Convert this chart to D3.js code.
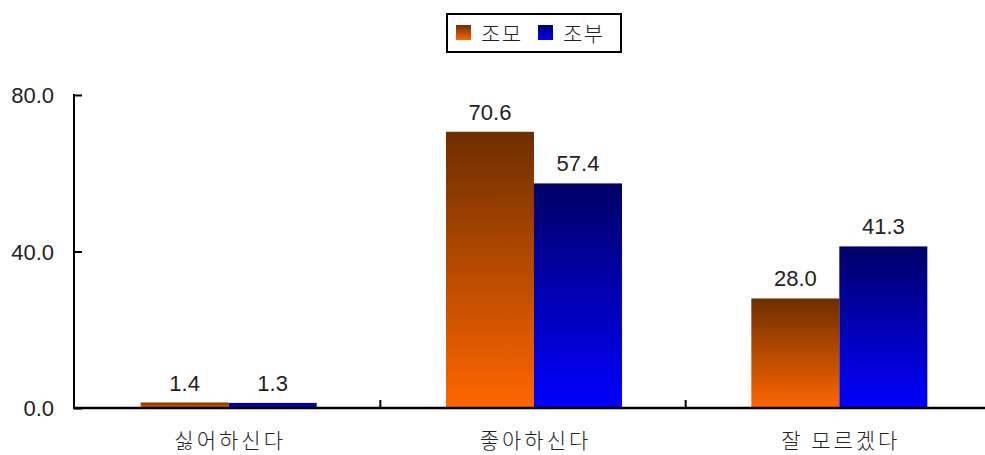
<!DOCTYPE html>
<html>
<head>
<meta charset="utf-8">
<script src="https://cdn.jsdelivr.net/npm/d3@7"></script>
<style>
  body { margin: 0; background: #fff; }
  text { font-family: "Noto Sans CJK KR", "DejaVu Sans", sans-serif; fill: #222; }
  text.num { font-family: "Liberation Sans", Arial, sans-serif; }
</style>
</head>
<body>
<svg id="viz" width="985" height="455"></svg>
<script>
// Data

var categories = ["싫어하신다", "좋아하신다", "잘 모르겠다"];
var series_names = ["조모", "조부"];
var grandma = [1.4, 70.6, 28.0];
var grandpa = [1.3, 57.4, 41.3];
var y_ticks = [0, 40, 80];

var svg = d3.select("#viz");

// Gradients

var defs = svg.append("defs");
var grads = [
  { id: "g_orange", top: "#6e2e00", bottom: "#ff6600" },
  { id: "g_blue", top: "#000066", bottom: "#0000ff" }
];
grads.forEach(function(g) {
  var lg = defs.append("linearGradient")
    .attr("id", g.id)
    .attr("x1", 0).attr("y1", 0).attr("x2", 0).attr("y2", 1);
  lg.append("stop").attr("offset", "0%").attr("stop-color", g.top);
  lg.append("stop").attr("offset", "100%").attr("stop-color", g.bottom);
});

// Scales

var x = d3.scaleBand()
  .domain(categories)
  .range([76, 992]);

var x_inner = d3.scaleBand()
  .domain(series_names)
  .range([0, 176]);

var y = d3.scaleLinear()
  .domain([0, 80])
  .range([408, 95]);

// Bars

var values = [grandma, grandpa];
var fills = ["url(#g_orange)", "url(#g_blue)"];

series_names.forEach(function(s, si) {
  var g = svg.append("g");
  g.selectAll("rect")
    .data(values[si])
    .enter().append("rect")
      .attr("x", (d, i) => x(categories[i]) + x.bandwidth() / 2 - 88 + x_inner(s))
      .attr("y", d => y(d))
      .attr("width", x_inner.bandwidth())
      .attr("height", d => y(0) - y(d))
      .attr("fill", fills[si]);

  g.selectAll("text")
    .data(values[si])
    .enter().append("text")
      .attr("class", "num")
      .attr("x", (d, i) => x(categories[i]) + x.bandwidth() / 2 - 88 + x_inner(s) + x_inner.bandwidth() / 2)
      .attr("y", d => y(d) - 12)
      .attr("text-anchor", "middle")
      .style("font-size", "22px")
      .text(d => d.toFixed(1));
});

// Y axis

var y_axis = svg.append("g")
  .attr("transform", "translate(74,0)")
  .call(d3.axisRight(y).tickValues(y_ticks).tickSize(8).tickFormat(""));
y_axis.select(".domain").remove();
y_axis.selectAll("line").attr("stroke", "#000").attr("stroke-width", 2);
svg.append("line")
  .attr("x1", 74).attr("x2", 74)
  .attr("y1", y(80) - 1).attr("y2", y(0))
  .attr("stroke", "#000").attr("stroke-width", 2);

svg.selectAll(".ylab")
  .data(y_ticks)
  .enter().append("text")
    .attr("class", "ylab num")
    .attr("x", 54)
    .attr("y", d => y(d) + 8)
    .attr("text-anchor", "end")
    .style("font-size", "22px")
    .text(d => d.toFixed(1));

// X axis

svg.append("line")
  .attr("x1", 73).attr("x2", 985)
  .attr("y1", y(0)).attr("y2", y(0))
  .attr("stroke", "#000").attr("stroke-width", 2.5);

svg.selectAll(".xtick")
  .data(categories.slice(1))
  .enter().append("line")
    .attr("class", "xtick")
    .attr("x1", d => x(d) - 1).attr("x2", d => x(d) - 1)
    .attr("y1", y(0)).attr("y2", y(0) - 8)
    .attr("stroke", "#000").attr("stroke-width", 2);

svg.selectAll(".xlab")
  .data(categories)
  .enter().append("text")
    .attr("class", "xlab")
    .attr("x", d => x(d) + x.bandwidth() / 2 + 1.5)
    .attr("y", 448)
    .attr("text-anchor", "middle")
    .style("font-size", "21px")
    .style("font-weight", 300)
    .style("letter-spacing", "3px")
    .text(d => d);

// Legend

var legend = svg.append("g");
legend.append("rect")
  .attr("x", 447).attr("y", 14)
  .attr("width", 174).attr("height", 38)
  .attr("fill", "#fff").attr("stroke", "#000").attr("stroke-width", 2);

var legend_x = [456, 538];
series_names.forEach(function(s, si) {
  legend.append("rect")
    .attr("x", legend_x[si]).attr("y", 25)
    .attr("width", 15).attr("height", 15)
    .attr("fill", fills[si]);
  legend.append("text")
    .attr("x", legend_x[si] + 25)
    .attr("y", 41)
    .style("font-size", "21px")
    .style("font-weight", 300)
    .style("letter-spacing", "1.5px")
    .text(s);
});
</script>
</body>
</html>
